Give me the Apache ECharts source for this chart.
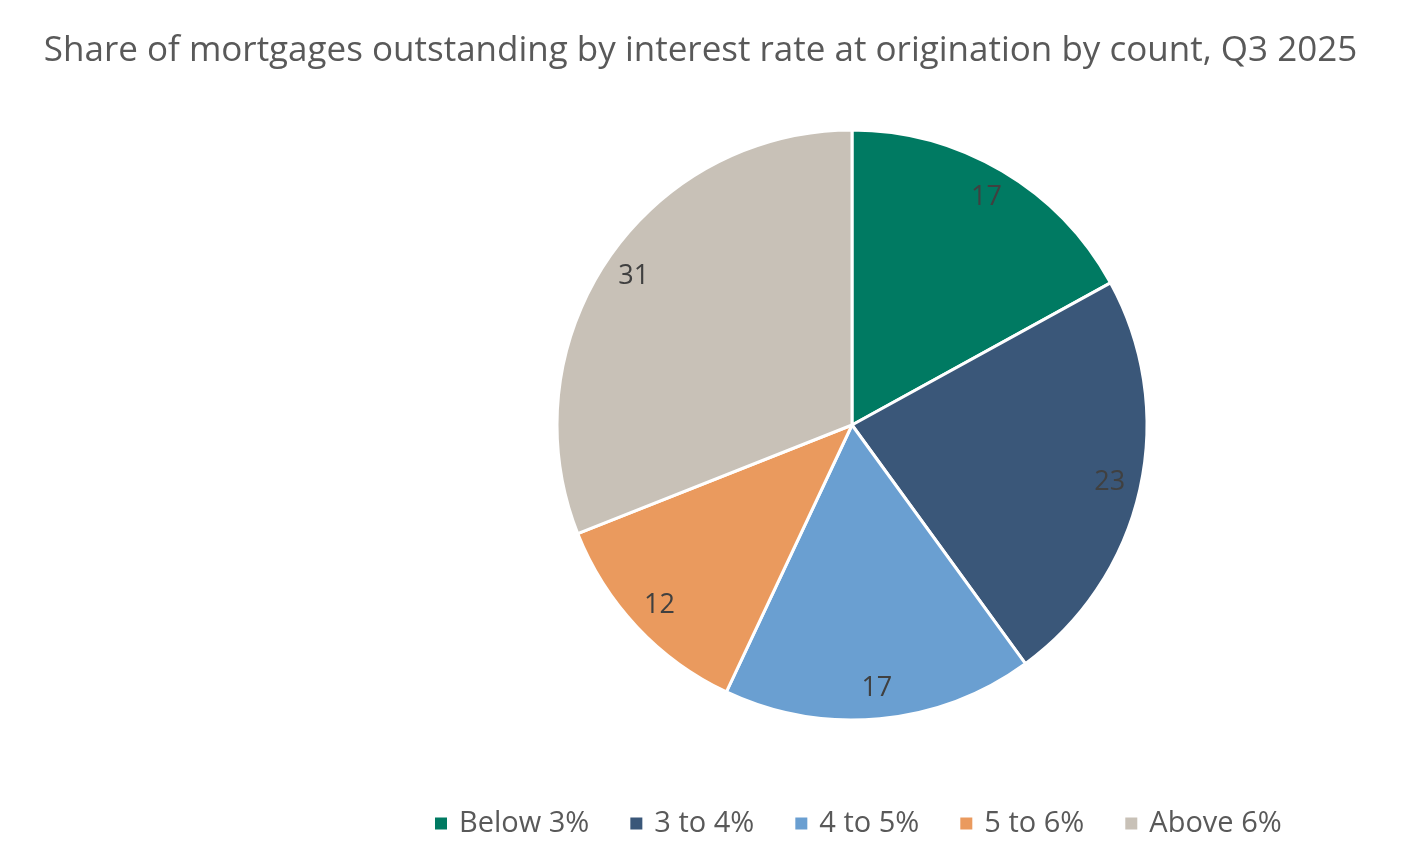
<!DOCTYPE html>
<html>
<head>
<meta charset="UTF-8">
<title>Mortgages by interest rate</title>
<script src="https://cdn.jsdelivr.net/npm/echarts@6/dist/echarts.min.js"></script>
<style>
  * { margin: 0; padding: 0; }
  html, body { width: 100%; height: 100%; background: #fff; }
  #main { width: 1401px; height: 861px; }
</style>
</head>
<body>
<div id="main"></div>
<script>
var categories = ['Below 3%', '3 to 4%', '4 to 5%', '5 to 6%', 'Above 6%'];
var shares = [17, 23, 17, 12, 31];
var colors = ['#007a62', '#3a5779', '#6a9fd1', '#ea9a5e', '#c8c1b7'];

var pieData = categories.map(function (name, i) {
  return { name: name, value: shares[i], itemStyle: { color: colors[i] } };
});

var chart = echarts.init(document.getElementById('main'));
var option = {
  backgroundColor: '#ffffff',
  animation: false,
  textStyle: { fontFamily: 'Open Sans' },
  title: {
    text: 'Share of mortgages outstanding by interest rate at origination by count, Q3 2025',
    left: 'center',
    top: 29,
    textStyle: { color: '#595959', fontSize: 35, fontWeight: 'normal', fontFamily: 'Open Sans' }
  },
  legend: {
    bottom: 18,
    left: 428,
    data: categories,
    icon: 'rect',
    itemWidth: 14,
    itemHeight: 14,
    itemGap: 39,
    textStyle: { color: '#595959', fontSize: 29, fontFamily: 'Open Sans', padding: [0, 0, 0, 6] }
  },
  series: [{
    type: 'pie',
    center: [852, 425],
    radius: [0, 295],
    startAngle: 90,
    clockwise: true,
    label: { show: false },
    labelLine: { show: false },
    itemStyle: { borderColor: '#ffffff', borderWidth: 3 },
    emphasis: { disabled: true },
    data: pieData
  }, {
    // transparent ring only to place the value labels near the rim
    type: 'pie',
    center: [852, 425],
    radius: [227, 295],
    startAngle: 90,
    clockwise: true,
    silent: true,
    legendHoverLink: false,
    itemStyle: { color: 'rgba(0,0,0,0)' },
    label: {
      show: true,
      position: 'inside',
      formatter: '{c}',
      color: '#404040',
      fontSize: 27,
      fontFamily: 'Open Sans'
    },
    labelLine: { show: false },
    emphasis: { disabled: true },
    data: categories.map(function (name, i) { return { name: name + ' ', value: shares[i] }; })
  }]
};
chart.setOption(option);
</script>
</body>
</html>
